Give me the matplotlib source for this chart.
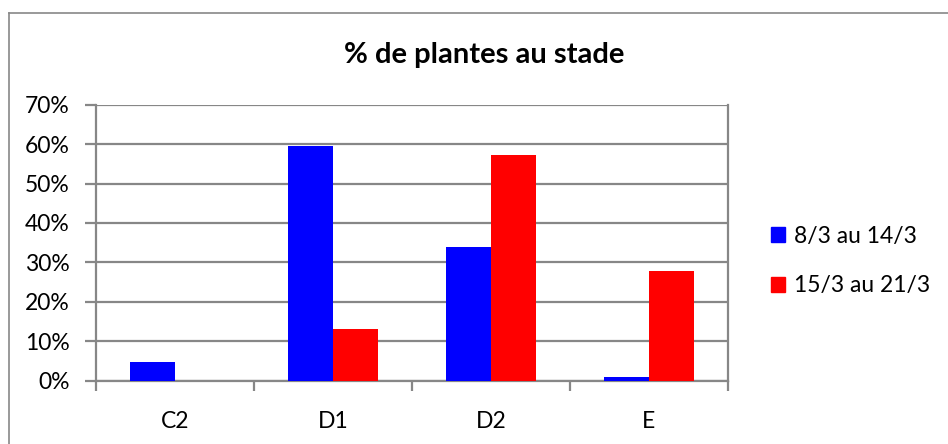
import matplotlib
matplotlib.use("Agg")
import matplotlib.pyplot as plt
from matplotlib.patches import Patch
from matplotlib.lines import Line2D
import numpy as np

categories = ["C2", "D1", "D2", "E"]
series_names = ["8/3 au 14/3", "15/3 au 21/3"]
serie1 = [4.7, 59.4, 33.9, 0.9]
serie2 = [0.0, 13.0, 57.2, 27.8]
yticks = [0, 10, 20, 30, 40, 50, 60, 70]
ytick_labels = ["0%", "10%", "20%", "30%", "40%", "50%", "60%", "70%"]
title = "% de plantes au stade"

plt.rcParams['font.family'] = ['Lato', 'DejaVu Sans']

fig = plt.figure(figsize=(9.48, 4.44), dpi=100)
ax = fig.add_axes([96/948, 1-380.7/444, (728-96)/948, (380.7-104.7)/444])

grid_c = "#878787"
x = np.arange(len(categories))
w = 0.285
ax.bar(x - w/2, serie1, width=w, color="#0000FF", label=series_names[0], zorder=3)
ax.bar(x + w/2, serie2, width=w, color="#FF0000", label=series_names[1], zorder=3)

ax.set_xlim(-0.5, len(categories) - 0.5)
ax.set_ylim(0, 70)
ax.set_yticks(yticks)
ax.set_yticklabels(ytick_labels)
ax.set_xticks(x)
ax.set_xticklabels(categories)
ax.set_xticks(np.arange(-0.5, len(categories)), minor=True)

ax.yaxis.grid(True, color=grid_c, linewidth=1.6, zorder=0)
ax.set_axisbelow(True)
for s in ["left", "bottom", "right", "top"]:
    ax.spines[s].set_color(grid_c)
    ax.spines[s].set_linewidth(1.6)
ax.spines["top"].set_visible(False)

ax.tick_params(axis="y", length=8, width=1.6, color=grid_c, pad=11, labelsize=16.5)
ax.tick_params(axis="x", which="major", length=0, pad=22, labelsize=16.5)
ax.tick_params(axis="x", which="minor", length=7, width=1.6, color=grid_c)

fig.text(484/948, 1-55/444, title, ha="center", va="center", fontsize=21, fontweight="bold")

handles = [Patch(color="#0000FF"), Patch(color="#FF0000")]
fig.legend(handles, series_names, loc="center left", bbox_to_anchor=(771/948, 1-261/444),
           frameon=False, fontsize=16.5, handlelength=0.62, handleheight=0.62,
           handletextpad=0.4, labelspacing=1.25, borderpad=0, borderaxespad=0)

fig.add_artist(Line2D([9/948, 9/948], [0, 1-13/444], transform=fig.transFigure, color="#888888", linewidth=1.2))
fig.add_artist(Line2D([9/948, 1], [1-13/444, 1-13/444], transform=fig.transFigure, color="#888888", linewidth=1.2))

fig.savefig("out.png", dpi=100)
